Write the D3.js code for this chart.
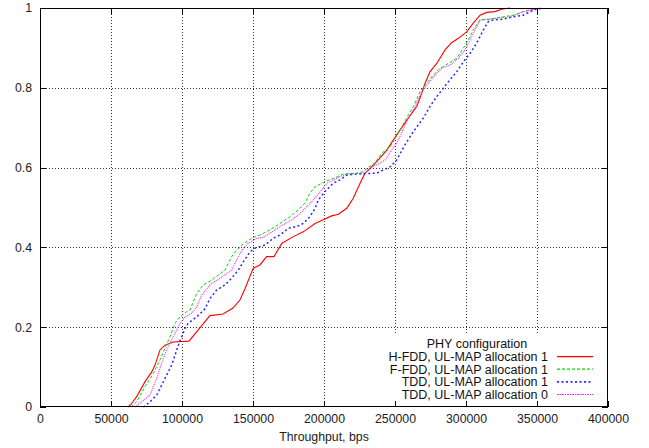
<!DOCTYPE html>
<html>
<head>
<meta charset="utf-8">
<script src="https://cdn.jsdelivr.net/npm/d3@7"></script>
<style>
  html, body { margin: 0; padding: 0; background: #fff; }
  svg { display: block; font-family: "Liberation Sans", Arial, Helvetica, sans-serif; }
</style>
</head>
<body>
<svg id="chart" width="649" height="448"></svg>
<script>
// CDF of per-station throughput for several PHY configurations
const xTicks = [0, 50000, 100000, 150000, 200000, 250000, 300000, 350000, 400000];
const yTicks = [0, 0.2, 0.4, 0.6, 0.8, 1];
const xTitle = "Throughput, bps";
const legendTitle = "PHY configuration";

const hfddX = [62000, 64100, 68100, 73900, 78700, 81000, 84500, 88000, 93700, 104900, 119700, 128900, 135900, 140800, 144400, 150200, 154900, 159600, 164800, 170200, 178400, 185400, 193700, 199500, 205400, 210100, 216000, 220600, 225400, 228900, 232400, 237100, 244200, 251200, 259400, 265300, 268800, 271100, 274600, 279400, 285200, 289900, 294600, 300500, 305100, 309900, 314600, 320400, 325100, 331000];
const hfddY = [0, 0.007, 0.026, 0.063, 0.088, 0.105, 0.143, 0.155, 0.163, 0.165, 0.229, 0.233, 0.248, 0.268, 0.297, 0.348, 0.356, 0.377, 0.377, 0.410, 0.427, 0.439, 0.460, 0.469, 0.479, 0.483, 0.498, 0.523, 0.561, 0.586, 0.598, 0.615, 0.644, 0.682, 0.724, 0.753, 0.786, 0.811, 0.840, 0.861, 0.895, 0.913, 0.924, 0.940, 0.962, 0.982, 0.989, 0.991, 0.997, 1.0];

const ffddX = [64000, 68100, 73900, 79800, 84500, 88000, 91500, 95100, 98600, 103300, 105600, 110400, 115000, 120900, 125600, 130300, 132600, 135000, 138500, 143200, 149100, 154900, 162000, 169000, 176100, 181900, 186600, 190100, 193700, 200700, 206500, 213600, 223000, 227700, 231200, 235900, 240600, 246500, 252300, 259400, 262900, 267600, 272300, 277000, 281700, 287500, 293400, 298100, 301600, 305100, 309900, 316900, 326300, 333300, 340300, 343900, 352100];
const ffddY = [0, 0.013, 0.051, 0.084, 0.118, 0.147, 0.176, 0.210, 0.226, 0.239, 0.243, 0.285, 0.306, 0.318, 0.331, 0.343, 0.360, 0.377, 0.393, 0.409, 0.423, 0.431, 0.444, 0.460, 0.477, 0.494, 0.511, 0.536, 0.552, 0.565, 0.573, 0.584, 0.586, 0.590, 0.601, 0.612, 0.636, 0.652, 0.686, 0.732, 0.753, 0.790, 0.811, 0.832, 0.849, 0.861, 0.874, 0.899, 0.920, 0.945, 0.970, 0.972, 0.978, 0.982, 0.991, 0.995, 1.0];

const tdd1X = [72700, 77500, 82200, 85700, 89200, 92700, 95100, 97400, 99800, 102100, 104400, 110400, 116200, 119700, 124400, 130300, 135000, 139600, 143200, 147900, 151400, 158500, 164300, 169000, 174900, 180800, 185400, 190100, 193700, 196000, 200700, 206500, 211300, 216000, 223000, 237100, 241800, 246500, 251200, 257000, 262700, 269900, 274600, 279400, 284000, 288700, 293400, 298100, 302800, 307500, 312200, 315700, 319200, 326300, 333300, 340300, 345100, 349800, 354400];
const tdd1Y = [0, 0.013, 0.030, 0.055, 0.080, 0.105, 0.130, 0.155, 0.176, 0.197, 0.210, 0.226, 0.246, 0.272, 0.293, 0.306, 0.323, 0.343, 0.364, 0.389, 0.398, 0.406, 0.423, 0.431, 0.448, 0.452, 0.460, 0.477, 0.498, 0.519, 0.540, 0.561, 0.569, 0.581, 0.584, 0.586, 0.594, 0.602, 0.619, 0.657, 0.689, 0.724, 0.753, 0.778, 0.799, 0.820, 0.840, 0.865, 0.886, 0.912, 0.945, 0.966, 0.970, 0.972, 0.978, 0.982, 0.991, 0.997, 1.0];

const tdd0X = [66900, 71600, 77500, 82200, 85700, 89200, 92700, 96300, 98600, 102100, 106800, 110400, 113900, 119700, 126800, 135000, 139600, 143200, 146700, 152600, 157300, 163200, 169000, 177300, 183100, 187800, 192500, 197200, 201900, 206500, 211300, 216000, 228900, 232400, 237100, 243000, 247700, 252300, 259400, 264100, 268800, 273400, 278200, 282900, 288700, 294600, 299300, 302800, 306300, 309900, 320400, 331000, 340300, 352100];
const tdd0Y = [0, 0.013, 0.030, 0.072, 0.110, 0.143, 0.168, 0.193, 0.210, 0.226, 0.235, 0.251, 0.281, 0.306, 0.323, 0.343, 0.377, 0.398, 0.410, 0.423, 0.425, 0.439, 0.452, 0.469, 0.485, 0.502, 0.519, 0.539, 0.561, 0.569, 0.577, 0.584, 0.586, 0.598, 0.607, 0.619, 0.644, 0.669, 0.724, 0.753, 0.790, 0.811, 0.832, 0.849, 0.857, 0.874, 0.895, 0.920, 0.945, 0.970, 0.974, 0.978, 0.990, 1.0];

const seriesNames = [
  "H-FDD, UL-MAP allocation 1",
  "F-FDD, UL-MAP allocation 1",
  "TDD, UL-MAP allocation 1",
  "TDD, UL-MAP allocation 0"
];
const seriesColors = ["#ff0000", "#00dd00", "#2a2aff", "#ff22ff"];
const seriesDash = [null, "3,2", "2,2.5", "1,1"];
const seriesWidth = [1.1, 1, 1.5, 1.1];

(function draw() {
  const series = [
    { x: hfddX, y: hfddY },
    { x: ffddX, y: ffddY },
    { x: tdd1X, y: tdd1Y },
    { x: tdd0X, y: tdd0Y }
  ].map((s, i) => ({
    name: seriesNames[i], color: seriesColors[i], dash: seriesDash[i], width: seriesWidth[i],
    points: s.x.map((v, j) => [v, s.y[j]])
  }));

  const svg = d3.select("#chart");
  const pL = 40, pR = 608, pT = 8, pB = 407;

  const x = d3.scaleLinear().domain([0, 400000]).range([pL, pR]);
  const y = d3.scaleLinear().domain([0, 1]).range([pB, pT]);

  // grid
  const grid = svg.append("g").attr("stroke", "#333").attr("stroke-width", 1)
    .attr("stroke-dasharray", "1,2").attr("shape-rendering", "crispEdges");
  xTicks.filter(t => t > 0 && t < 400000).forEach(t => {
    grid.append("line").attr("x1", Math.round(x(t)) + 0.5).attr("x2", Math.round(x(t)) + 0.5)
      .attr("y1", pT).attr("y2", pB);
  });
  yTicks.filter(t => t > 0 && t < 1).forEach(t => {
    grid.append("line").attr("y1", Math.round(y(t)) + 0.5).attr("y2", Math.round(y(t)) + 0.5)
      .attr("x1", pL).attr("x2", pR);
  });

  // curves
  const line = d3.line().x(d => x(d[0])).y(d => y(d[1]));
  series.forEach(s => {
    svg.append("path").datum(s.points)
      .attr("fill", "none").attr("stroke", s.color).attr("stroke-width", s.width)
      .attr("stroke-dasharray", s.dash).attr("d", line);
  });

  // key with opaque background
  const key = svg.append("g");
  key.append("rect").attr("x", 376).attr("y", 334).attr("width", 227).attr("height", 68).attr("fill", "#fff");
  key.append("text").attr("x", 477).attr("y", 348).attr("text-anchor", "middle")
    .attr("font-size", 12.5).attr("fill", "#111").text(legendTitle);
  series.forEach((s, i) => {
    const cy = 356.6 + i * 12.6;
    key.append("text").attr("x", 548).attr("y", cy + 4.3).attr("text-anchor", "end")
      .attr("font-size", 12.5).attr("fill", "#111").text(s.name);
    const fine = s.dash === "1,1";
    const ly = fine ? Math.round(cy) + 0.5 : cy;
    key.append("line").attr("x1", 557).attr("x2", 593).attr("y1", ly).attr("y2", ly)
      .attr("stroke", s.color).attr("stroke-width", fine ? 1 : s.width + 0.2)
      .attr("stroke-dasharray", fine ? "1.5,1" : s.dash)
      .attr("shape-rendering", fine ? "crispEdges" : null);
  });

  // axes with inward ticks on all four sides
  const axB = svg.append("g").attr("transform", `translate(0,${pB})`)
    .call(d3.axisBottom(x).tickValues(xTicks).tickFormat(d3.format("d")).tickSize(-6).tickPadding(7.5));
  const axT = svg.append("g").attr("transform", `translate(0,${pT})`)
    .call(d3.axisTop(x).tickValues(xTicks).tickFormat("").tickSize(-6));
  const axL = svg.append("g").attr("transform", `translate(${pL},0)`)
    .call(d3.axisLeft(y).tickValues(yTicks).tickFormat(d => String(+d.toFixed(1))).tickSize(-6).tickPadding(8));
  const axR = svg.append("g").attr("transform", `translate(${pR},0)`)
    .call(d3.axisRight(y).tickValues(yTicks).tickFormat("").tickSize(-6));

  [axB, axT, axL, axR].forEach(a => {
    a.select(".domain").remove();
    a.selectAll(".tick line").attr("stroke", "#000").attr("shape-rendering", "crispEdges");
    a.selectAll(".tick text").attr("font-size", 12.3).attr("fill", "#222")
      .attr("font-family", "'Liberation Sans', Arial, sans-serif");
  });

  // frame
  svg.append("rect").attr("x", pL + 0.5).attr("y", pT + 0.5)
    .attr("width", pR - pL - 1).attr("height", pB - pT - 1)
    .attr("fill", "none").attr("stroke", "#000").attr("stroke-width", 1)
    .attr("shape-rendering", "crispEdges");

  // axis title
  svg.append("text").attr("x", (pL + pR) / 2).attr("y", 441).attr("text-anchor", "middle")
    .attr("font-size", 12.3).attr("fill", "#222").text(xTitle);
})();
</script>
</body>
</html>
